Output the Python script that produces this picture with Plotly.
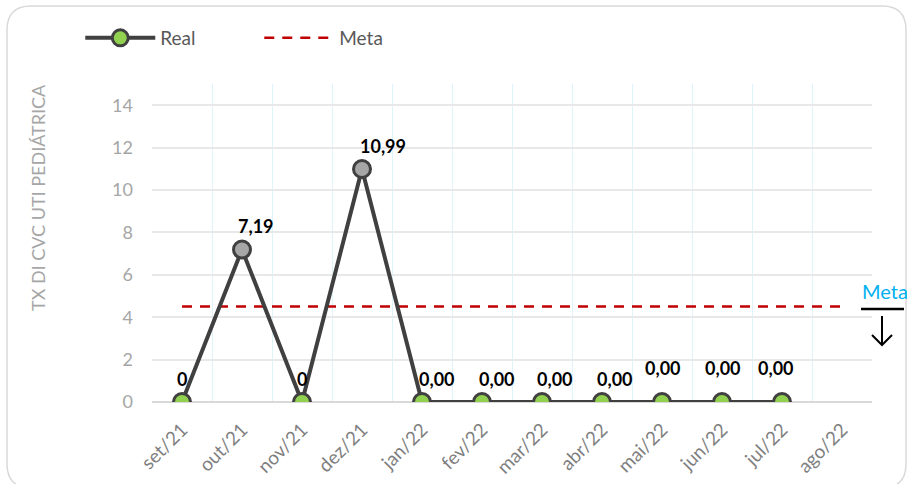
import plotly.graph_objects as go

months = ["set/21", "out/21", "nov/21", "dez/21", "jan/22", "fev/22", "mar/22",
          "abr/22", "mai/22", "jun/22", "jul/22", "ago/22"]
real_values = [0, 7.19, 0, 10.99, 0, 0, 0, 0, 0, 0, 0]
real_labels = ["0", "7,19", "0", "10,99", "0,00", "0,00", "0,00", "0,00", "0,00", "0,00", "0,00"]
meta_values = [4.5] * 12
y_title = "TX DI CVC UTI PEDIÁTRICA"

FONT = "Lato"
W, H = 907, 484
L, R, T, B = 152, 35, 84, 82
pw, ph = W - L - R, H - T - B

def px2paper(x, y):
    return (x - L) / pw, (H - B - y) / ph

x_idx = list(range(len(months)))
real_x = x_idx[:len(real_values)]

fig = go.Figure()
fig.add_trace(go.Scatter(
    x=x_idx, y=meta_values, name="Meta", mode="lines",
    line=dict(color="#c00000", width=2.5, dash="10px,8px"),
    hoverinfo="skip",
))
fig.add_trace(go.Scatter(
    x=real_x, y=real_values, name="Real", mode="lines+markers",
    line=dict(color="#404040", width=4),
    marker=dict(size=17, color=["#a6a6a6" if v > 0 else "#92d050" for v in real_values],
                line=dict(color="#404040", width=3)),
))

# data labels (offsets in pixels)
label_offsets = [(0, 23), (14, 24), (0, 23), (21, 23), (15, 23), (15, 23), (13, 23),
                 (13, 23), (1, 34), (1, 34), (-6, 34)]
for xi, v, t, (dx, dy) in zip(real_x, real_values, real_labels, label_offsets):
    fig.add_annotation(x=xi, y=v, text=t, showarrow=False, xshift=dx, yshift=dy,
                       font=dict(family=FONT, size=18, color="#000000", weight="bold"))

# y-axis title
ax_, ay_ = px2paper(38, 198)
fig.add_annotation(xref="paper", yref="paper", x=ax_, y=ay_, text=y_title, textangle=-90,
                   xanchor="center", yanchor="middle",
                   showarrow=False, font=dict(family=FONT, size=18, color="#a6a6a6"))

# Meta callout at right
mx, my = px2paper(860, 291)
fig.add_annotation(xref="paper", yref="paper", x=mx, y=my, text="Meta", showarrow=False,
                   xanchor="left", yanchor="middle",
                   font=dict(family=FONT, size=20, color="#00b0f0"))
x0, y0 = px2paper(861, 309)
x1, _ = px2paper(904, 309)
fig.add_shape(type="line", xref="paper", yref="paper", x0=x0, x1=x1, y0=y0, y1=y0,
              line=dict(color="#000000", width=2.5))

def P(x, y):
    a, b = px2paper(x, y)
    return f"{a:.5f},{b:.5f}"

arrow = f"M {P(882, 316)} L {P(882, 345)} M {P(872, 335)} L {P(882, 345)} L {P(892, 335)}"
fig.add_shape(type="path", xref="paper", yref="paper", path=arrow,
              line=dict(color="#000000", width=2))

# rounded border
r = 24
bx0, by0, bx1, by1 = 7, 6, 906, 488
path = (f"M {P(bx0 + r, by0)} L {P(bx1 - r, by0)} Q {P(bx1, by0)} {P(bx1, by0 + r)} "
        f"L {P(bx1, by1 - r)} Q {P(bx1, by1)} {P(bx1 - r, by1)} L {P(bx0 + r, by1)} "
        f"Q {P(bx0, by1)} {P(bx0, by1 - r)} L {P(bx0, by0 + r)} Q {P(bx0, by0)} {P(bx0 + r, by0)} Z")
fig.add_shape(type="path", xref="paper", yref="paper", path=path,
              line=dict(color="#d9d9d9", width=1.5), layer="below")

fig.update_layout(
    width=W, height=H,
    margin=dict(l=L, r=R, t=T, b=B, autoexpand=False),
    paper_bgcolor="white", plot_bgcolor="white",
    font=dict(family=FONT),
    showlegend=True,
    legend=dict(orientation="h", xref="container", yref="container", x=0.0885, y=1 - 38 / H,
                xanchor="left", yanchor="middle", itemwidth=70, traceorder="reversed",
                entrywidth=94, entrywidthmode="pixels",
                font=dict(family=FONT, size=19, color="#595959"),
                bgcolor="rgba(0,0,0,0)"),
    xaxis=dict(
        range=[-0.5, 11.5], tickmode="array", tickvals=x_idx, ticktext=months,
        tickangle=-45, showgrid=False, zeroline=False, showline=False, ticks="",
        ticklabelstandoff=12, automargin=False,
        tickfont=dict(family=FONT, size=19, color="#7f7f7f"),
        minor=dict(tickmode="linear", tick0=-0.5, dtick=1, showgrid=True,
                   gridcolor="#dff3fa", gridwidth=1, ticks=""),
    ),
    yaxis=dict(
        range=[0, 15], tickmode="array", tickvals=[0, 2, 4, 6, 8, 10, 12, 14],
        showgrid=True, gridcolor="#e8e8e8", gridwidth=1.5,
        zeroline=True, zerolinecolor="#d9d9d9", zerolinewidth=2,
        ticks="", ticklabelstandoff=18, automargin=False,
        tickfont=dict(family=FONT, size=18, color="#a6a6a6"),
    ),
    hovermode=False,
)

fig.write_html("out.html", config={"displayModeBar": False},
               post_script="document.body.style.margin='0';")
